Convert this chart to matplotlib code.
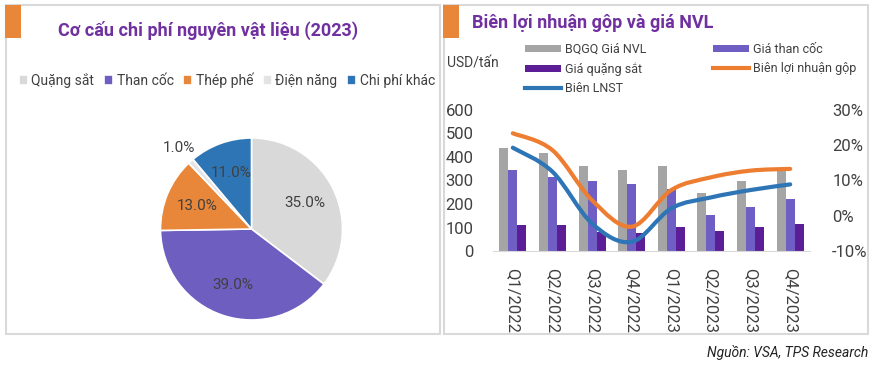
import numpy as np
import matplotlib.pyplot as plt
from matplotlib.patches import Rectangle
from matplotlib.path import Path
from matplotlib.patches import PathPatch
from matplotlib.lines import Line2D

plt.rcParams['font.family'] = ['Roboto', 'DejaVu Sans']

# dữ liệu
pie_labels = ['Quặng sắt', 'Than cốc', 'Thép phế', 'Điện năng', 'Chi phí khác']
pie_values = [35.0, 39.0, 13.0, 1.0, 11.0]
pie_colors = ['#D9D9D9', '#6E5EC0', '#E8873A', '#E4E4E4', '#2E75B6']

quarters = ['Q1/2022', 'Q2/2022', 'Q3/2022', 'Q4/2022',
            'Q1/2023', 'Q2/2023', 'Q3/2023', 'Q4/2023']
gia_nvl = [440, 415, 360, 345, 363, 248, 299, 345]
gia_than = [345, 313, 299, 286, 265, 153, 186, 220]
gia_quang = [111, 109, 82, 78, 104, 85, 102, 115]
bien_gop = [23.4, 18.6, 4.4, -3.1, 7.3, 10.9, 12.8, 13.3]
bien_lnst = [19.3, 12.5, -2.2, -7.4, 2.1, 5.2, 7.3, 8.9]

W, H = 878, 368
fig = plt.figure(figsize=(W / 100, H / 100), dpi=100)


def fx(px):
    return px / W


def fy(py):
    return 1 - py / H


txt_col = '#404040'
title_col = '#7030A0'
orange = '#E8873A'

# khung
for x0, x1 in [(6, 440), (444, 868)]:
    fig.add_artist(Rectangle((fx(x0), fy(334)), fx(x1 - x0), (334 - 5) / H,
                             transform=fig.transFigure, fill=False,
                             ec='#D9D9D9', lw=1.5))
    fig.add_artist(Rectangle((fx(x0 - 1), fy(38)), fx(16), 33 / H,
                             transform=fig.transFigure, color=orange, lw=0))

fig.text(fx(58), fy(30), 'Cơ cấu chi phí nguyên vật liệu (2023)', color=title_col,
         fontsize=13, fontweight='bold', va='center', ha='left')
fig.text(fx(472), fy(23), 'Biên lợi nhuận gộp và giá NVL', color=title_col,
         fontsize=13, fontweight='bold', va='center', ha='left')

# pie
r = 91
cx, cy = 251.5, 229
total = sum(pie_values)
axp = fig.add_axes([fx(cx - r), fy(cy + r), fx(2 * r), 2 * r / H])
wedges, texts, autotexts = axp.pie(pie_values, colors=pie_colors, startangle=90,
                                   counterclock=False,
                                   autopct=lambda p: f'{p * total / 100:.1f}%',
                                   pctdistance=0.65,
                                   wedgeprops=dict(edgecolor='white', linewidth=1.2),
                                   textprops=dict(color=txt_col, fontsize=11))
axp.set_xlim(-1, 1)
axp.set_ylim(-1, 1)
# nhãn 1% đặt ngoài
small = autotexts[3]
ang = np.deg2rad((wedges[3].theta1 + wedges[3].theta2) / 2)
small.set_position((1.2 * np.cos(ang), 1.2 * np.sin(ang)))

fig.legend(wedges, pie_labels, loc='center', bbox_to_anchor=(fx(227), fy(80)),
           ncol=5, frameon=False, fontsize=10, handlelength=0.65, handleheight=0.65,
           handletextpad=0.25, columnspacing=0.7, labelcolor=txt_col)

# bar + line
ax = fig.add_axes([fx(493), fy(251), fx(317), 141 / H])
x = np.arange(len(quarters))
bw = 0.227
b1 = ax.bar(x - bw, gia_nvl, bw, color='#A5A5A5', label='BQGQ Giá NVL')
b2 = ax.bar(x, gia_than, bw, color='#6F5FC4', label='Giá than cốc')
b3 = ax.bar(x + bw, gia_quang, bw, color='#5B1E96', label='Giá quặng sắt')
ax.set_xlim(-0.5, 7.5)
ax.set_ylim(0, 600)
ax.set_yticks(range(0, 601, 100))
ax.set_xticks(x)
ax.set_xticklabels(quarters, rotation=-90, va='top')
ax.tick_params(length=0, labelsize=12, labelcolor=txt_col)
ax.tick_params(axis='y', pad=14)
ax.tick_params(axis='x', pad=12)
for s in ['top', 'left', 'right']:
    ax.spines[s].set_visible(False)
ax.spines['bottom'].set_color('#D9D9D9')

ax2 = ax.twinx()
ax2.set_ylim(-10, 30)
ax2.set_yticks([-10, 0, 10, 20, 30])
ax2.set_yticklabels(['-10%', '0%', '10%', '20%', '30%'])
ax2.tick_params(length=0, labelsize=12, labelcolor=txt_col, pad=16)
for s in ax2.spines.values():
    s.set_visible(False)


def smooth_path(xs, ys):
    pts = np.column_stack([xs, ys]).astype(float)
    verts = [pts[0]]
    codes = [Path.MOVETO]
    n = len(pts)
    for i in range(n - 1):
        p0 = pts[i - 1] if i > 0 else pts[i]
        p1 = pts[i]
        p2 = pts[i + 1]
        p3 = pts[i + 2] if i + 2 < n else pts[i + 1]
        verts += [p1 + (p2 - p0) / 6, p2 - (p3 - p1) / 6, p2]
        codes += [Path.CURVE4] * 3
    return Path(verts, codes)


ax2.add_patch(PathPatch(smooth_path(x, bien_gop), fill=False, ec='#ED7D31',
                        lw=3, capstyle='round'))
ax2.add_patch(PathPatch(smooth_path(x, bien_lnst), fill=False, ec='#2E75B6',
                        lw=3, capstyle='round'))

h_gop = Line2D([], [], color='#ED7D31', lw=3)
h_lnst = Line2D([], [], color='#2E75B6', lw=3)
fig.legend([b1, b3, h_lnst, b2, h_gop],
           ['BQGQ Giá NVL', 'Giá quặng sắt', 'Biên LNST', 'Giá than cốc', 'Biên lợi nhuận gộp'],
           ncol=2, loc='upper left', bbox_to_anchor=(fx(525), fy(43)),
           frameon=False, fontsize=9, handlelength=2.9, handleheight=0.5,
           handletextpad=0.3, columnspacing=5.3, labelspacing=0.5,
           borderpad=0, borderaxespad=0, labelcolor=txt_col)

fig.text(fx(447), fy(64), 'USD/tấn', fontsize=10, color=txt_col, va='center')
fig.text(fx(868), fy(352), 'Nguồn: VSA, TPS Research', fontsize=10, style='italic',
         color='#222222', ha='right', va='center')

fig.savefig('out.png', dpi=100)
